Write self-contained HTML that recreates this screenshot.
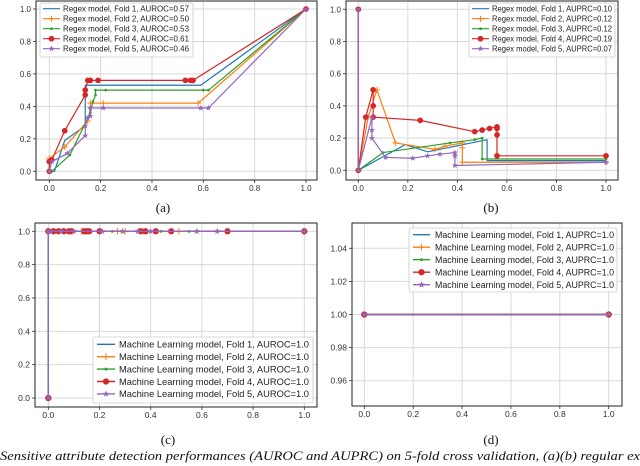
<!DOCTYPE html>
<html><head><meta charset="utf-8"><style>
html,body{margin:0;padding:0;background:#fff;width:640px;height:466px;overflow:hidden}
svg{display:block}
text{font-family:"Liberation Sans",sans-serif}
text.serif{font-family:"Liberation Serif",serif}
</style></head><body>
<svg id="fig" width="640" height="466" viewBox="0 0 640 466" xmlns="http://www.w3.org/2000/svg"></svg>
<script>
const foldColors=["#1f77b4","#ff7f0e","#2ca02c","#d62728","#9467bd"];
const markerTypes=["none","plus","dot","circle","star"];
// (a) ROC regex
const rocRegexX=[
[0,0.02,0.06,0.14,0.14,0.14,0.59,1],
[0,0,0.06,0.15,0.16,0.16,0.21,0.58,1],
[0,0.01,0.08,0.16,0.17,0.18,0.18,0.22,0.6,0.62,1],
[0,0,0.01,0.06,0.14,0.14,0.15,0.16,0.19,0.53,0.55,0.56,1],
[0,0.01,0.07,0.14,0.14,0.15,0.16,0.16,0.21,0.59,0.62,1]];
const rocRegexY=[
[0,0,0.19,0.28,0.33,0.53,0.53,1],
[0,0.08,0.15,0.31,0.39,0.42,0.42,0.42,1],
[0,0,0.1,0.36,0.43,0.47,0.5,0.5,0.5,0.5,1],
[0,0.06,0.07,0.25,0.47,0.5,0.56,0.56,0.56,0.56,0.56,0.56,1],
[0,0.06,0.11,0.22,0.28,0.33,0.34,0.39,0.39,0.39,0.39,1]];
const rocRegexLabels=["Regex model, Fold 1, AUROC=0.57","Regex model, Fold 2, AUROC=0.50","Regex model, Fold 3, AUROC=0.53","Regex model, Fold 4, AUROC=0.61","Regex model, Fold 5, AUROC=0.46"];
// (b) PR regex
const prRegexX=[
[0,0,0.19,0.28,0.52,0.52,1],
[0,0,0.04,0.075,0.15,0.31,0.35,0.42,0.42,0.42,1],
[0,0,0.1,0.37,0.47,0.5,0.5,1],
[0,0,0.03,0.06,0.06,0.06,0.25,0.47,0.5,0.53,0.56,0.56,0.56,0.56,1],
[0,0,0.055,0.055,0.055,0.11,0.22,0.28,0.33,0.39,0.39,0.39,1]];
const prRegexY=[
[1,0,0.16,0.115,0.19,0.06,0.06],
[1,0,0.33,0.5,0.17,0.13,0.15,0.17,0.14,0.05,0.05],
[1,0,0.11,0.17,0.19,0.2,0.07,0.07],
[1,0,0.33,0.5,0.4,0.33,0.31,0.24,0.25,0.26,0.27,0.26,0.22,0.09,0.09],
[1,0,0.33,0.25,0.2,0.08,0.075,0.09,0.1,0.11,0.09,0.03,0.05]];
const prRegexLabels=["Regex model, Fold 1, AUPRC=0.10","Regex model, Fold 2, AUPRC=0.12","Regex model, Fold 3, AUPRC=0.12","Regex model, Fold 4, AUPRC=0.19","Regex model, Fold 5, AUPRC=0.07"];
// (c) ROC ML
const rocMlX=[
[0,0,0.05,0.2,1],
[0,0,0.02,0.13,0.27,0.3,0.37,0.51,1],
[0,0,0.03,0.1,0.25,0.44,0.55,1],
[0,0,0.02,0.04,0.06,0.08,0.09,0.14,0.15,0.16,0.2,0.36,0.38,0.42,0.48,0.7,1],
[0,0,0.01,0.05,0.1,0.21,0.29,0.35,0.4,0.58,0.66,1]];
const rocMlY=[
[0,1,1,1,1],
[0,1,1,1,1,1,1,1,1],
[0,1,1,1,1,1,1,1],
[0,1,1,1,1,1,1,1,1,1,1,1,1,1,1,1,1],
[0,1,1,1,1,1,1,1,1,1,1,1]];
const rocMlLabels=["Machine Learning model, Fold 1, AUROC=1.0","Machine Learning model, Fold 2, AUROC=1.0","Machine Learning model, Fold 3, AUROC=1.0","Machine Learning model, Fold 4, AUROC=1.0","Machine Learning model, Fold 5, AUROC=1.0"];
// (d) PR ML
const prMlX=[[0,1],[0,1],[0,1],[0,1],[0,1]];
const prMlY=[[1,1],[1,1],[1,1],[1,1],[1,1]];
const prMlLabels=["Machine Learning model, Fold 1, AUPRC=1.0","Machine Learning model, Fold 2, AUPRC=1.0","Machine Learning model, Fold 3, AUPRC=1.0","Machine Learning model, Fold 4, AUPRC=1.0","Machine Learning model, Fold 5, AUPRC=1.0"];
const unitTicks=[0,0.2,0.4,0.6,0.8,1.0];
const unitTickLabels=["0.0","0.2","0.4","0.6","0.8","1.0"];
const dTicksY=[0.96,0.98,1.00,1.02,1.04];
const dTickLabelsY=["0.96","0.98","1.00","1.02","1.04"];

const NS="http://www.w3.org/2000/svg";
const svg=document.getElementById('fig');
function mk(tag,attrs,parent){const e=document.createElementNS(NS,tag);for(const k in attrs)e.setAttribute(k,attrs[k]);(parent||svg).appendChild(e);return e;}

function marker(g,type,x,y,c,s){
  let m=null;
  if(type==="plus"){m=mk('path',{d:`M${x-s} ${y}H${x+s}M${x} ${y-s}V${y+s}`,stroke:c,'stroke-width':1},g);}
  else if(type==="dot"){m=mk('circle',{cx:x,cy:y,r:s*0.45,fill:c},g);}
  else if(type==="circle"){m=mk('circle',{cx:x,cy:y,r:s*0.95,fill:c},g);}
  else if(type==="star"){let p=[];for(let i=0;i<10;i++){const r=i%2?s*0.45:s*1.05;const a=-Math.PI/2+i*Math.PI/5;p.push((x+r*Math.cos(a)).toFixed(2)+','+(y+r*Math.sin(a)).toFixed(2));}m=mk('polygon',{points:p.join(' '),fill:c},g);}
  if(m){}
}

function panel(o){
  const g=mk('g',{});
  
  
  const sx=v=>o.x0+(v-o.xmin)/(o.xmax-o.xmin)*(o.x1-o.x0);
  const sy=v=>o.y0+(v-o.ymin)/(o.ymax-o.ymin)*(o.y1-o.y0);
  o.xt.forEach((t,i)=>{const X=sx(t);
    const gl=mk('line',{x1:X,x2:X,y1:o.top,y2:o.bottom,stroke:'#d9d9d9','stroke-width':1},g);
    
    mk('line',{x1:X,x2:X,y1:o.bottom,y2:o.bottom+3,stroke:'#333','stroke-width':0.8},g);
    const tx=mk('text',{x:X,y:o.bottom+11,'font-size':o.fs,'text-anchor':'middle',fill:'#333'},g);tx.textContent=o.xl[i];
    });
  o.yt.forEach((t,i)=>{const Y=sy(t);
    const gl=mk('line',{x1:o.left,x2:o.right,y1:Y,y2:Y,stroke:'#d9d9d9','stroke-width':1},g);
    
    mk('line',{x1:o.left-3,x2:o.left,y1:Y,y2:Y,stroke:'#333','stroke-width':0.8},g);
    const tx=mk('text',{x:o.left-5,y:Y+3,'font-size':o.fs,'text-anchor':'end',fill:'#333'},g);tx.textContent=o.yl[i];
    });
  o.X.forEach((xs,k)=>{
    const sg=mk('g',{},g);
    
    
    const pts=xs.map((v,i)=>sx(v).toFixed(2)+','+sy(o.Y[k][i]).toFixed(2)).join(' ');
    const pl=mk('polyline',{points:pts,fill:'none',stroke:foldColors[k],'stroke-width':o.lw,'stroke-linejoin':'round'},sg);
    
    xs.forEach((v,i)=>marker(sg,markerTypes[k],sx(v),sy(o.Y[k][i]),foldColors[k],o.ms));
  });
  const fr=mk('rect',{x:o.left,y:o.top,width:o.right-o.left,height:o.bottom-o.top,fill:'none',stroke:'#222','stroke-width':1},g);
  
  const L=o.leg;
  const lg=mk('g',{},g);
  
  mk('rect',{x:L.x,y:L.y,width:L.w,height:L.h,fill:'#fff','fill-opacity':0.85,stroke:'#ccc','stroke-width':0.8,rx:2},lg);
  o.labels.forEach((lab,k)=>{
    const ry=L.r0+k*L.dy;
    const eg=mk('g',{},lg);
    
    
    mk('line',{x1:L.sx0,x2:L.sx1,y1:ry,y2:ry,stroke:foldColors[k],'stroke-width':o.lw},eg);
    marker(eg,markerTypes[k],(L.sx0+L.sx1)/2,ry,foldColors[k],o.ms);
    const t=mk('text',{x:L.tx,y:ry+L.fs*0.36,'font-size':L.fs,fill:'#222'},eg);t.textContent=lab;
    if(L.tl){t.setAttribute('textLength',L.tl);t.setAttribute('lengthAdjust','spacingAndGlyphs');}
  });
  const cap=mk('text',{x:o.capX,y:o.capY,'font-size':13,'text-anchor':'middle',fill:'#111','class':'serif'},g);
  cap.textContent=o.cap;
}

panel({name:'panel-a-roc-regex',left:36,right:317,top:1,bottom:180,x0:49.3,x1:306,xmin:0,xmax:1,y0:171.3,y1:9,ymin:0,ymax:1,
  xt:unitTicks,xl:unitTickLabels,yt:unitTicks,yl:unitTickLabels,fs:8,lw:1.2,ms:3,
  X:rocRegexX,Y:rocRegexY,labels:rocRegexLabels,
  leg:{x:40,y:3,w:153,h:54,r0:8.7,dy:10,sx0:43,sx1:60,tx:63,fs:8.3,tl:126},cap:'(a)',capX:163,capY:212});
panel({name:'panel-b-pr-regex',left:346,right:618,top:1,bottom:180,x0:358.3,x1:606,xmin:0,xmax:1,y0:170.3,y1:9.3,ymin:0,ymax:1,
  xt:unitTicks,xl:unitTickLabels,yt:unitTicks,yl:unitTickLabels,fs:8,lw:1.2,ms:3,
  X:prRegexX,Y:prRegexY,labels:prRegexLabels,
  leg:{x:469,y:3,w:146,h:54,r0:8.7,dy:10,sx0:472,sx1:489,tx:492,fs:8.3,tl:120},cap:'(b)',capX:491,capY:212});
panel({name:'panel-c-roc-ml',left:35,right:317,top:223,bottom:407,x0:48.3,x1:304.3,xmin:0,xmax:1,y0:398,y1:231.3,ymin:0,ymax:1,
  xt:unitTicks,xl:unitTickLabels,yt:unitTicks,yl:unitTickLabels,fs:8.5,lw:1.4,ms:3.3,
  X:rocMlX,Y:rocMlY,labels:rocMlLabels,
  leg:{x:93,y:337,w:220,h:66,r0:344.3,dy:12.4,sx0:97,sx1:115,tx:119,fs:9.2,tl:190},cap:'(c)',capX:168,capY:444});
panel({name:'panel-d-pr-ml',left:352,right:622,top:223,bottom:406,x0:364.3,x1:608.7,xmin:0,xmax:1,y0:380.7,y1:248.3,ymin:0.96,ymax:1.04,
  xt:unitTicks,xl:unitTickLabels,yt:dTicksY,yl:dTickLabelsY,fs:8.5,lw:1.4,ms:3.3,
  X:prMlX,Y:prMlY,labels:prMlLabels,
  leg:{x:409,y:228,w:208,h:64,r0:234.7,dy:12.5,sx0:413,sx1:430,tx:435,fs:9,tl:179},cap:'(d)',capX:491,capY:444});

const c=mk('text',{x:0,y:460,'font-size':13,fill:'#111','font-style':'italic','class':'serif',textLength:640,lengthAdjust:'spacingAndGlyphs'});
c.textContent='Sensitive attribute detection performances (AUROC and AUPRC) on 5-fold cross validation, (a)(b) regular ex';


</script>
</body></html>
